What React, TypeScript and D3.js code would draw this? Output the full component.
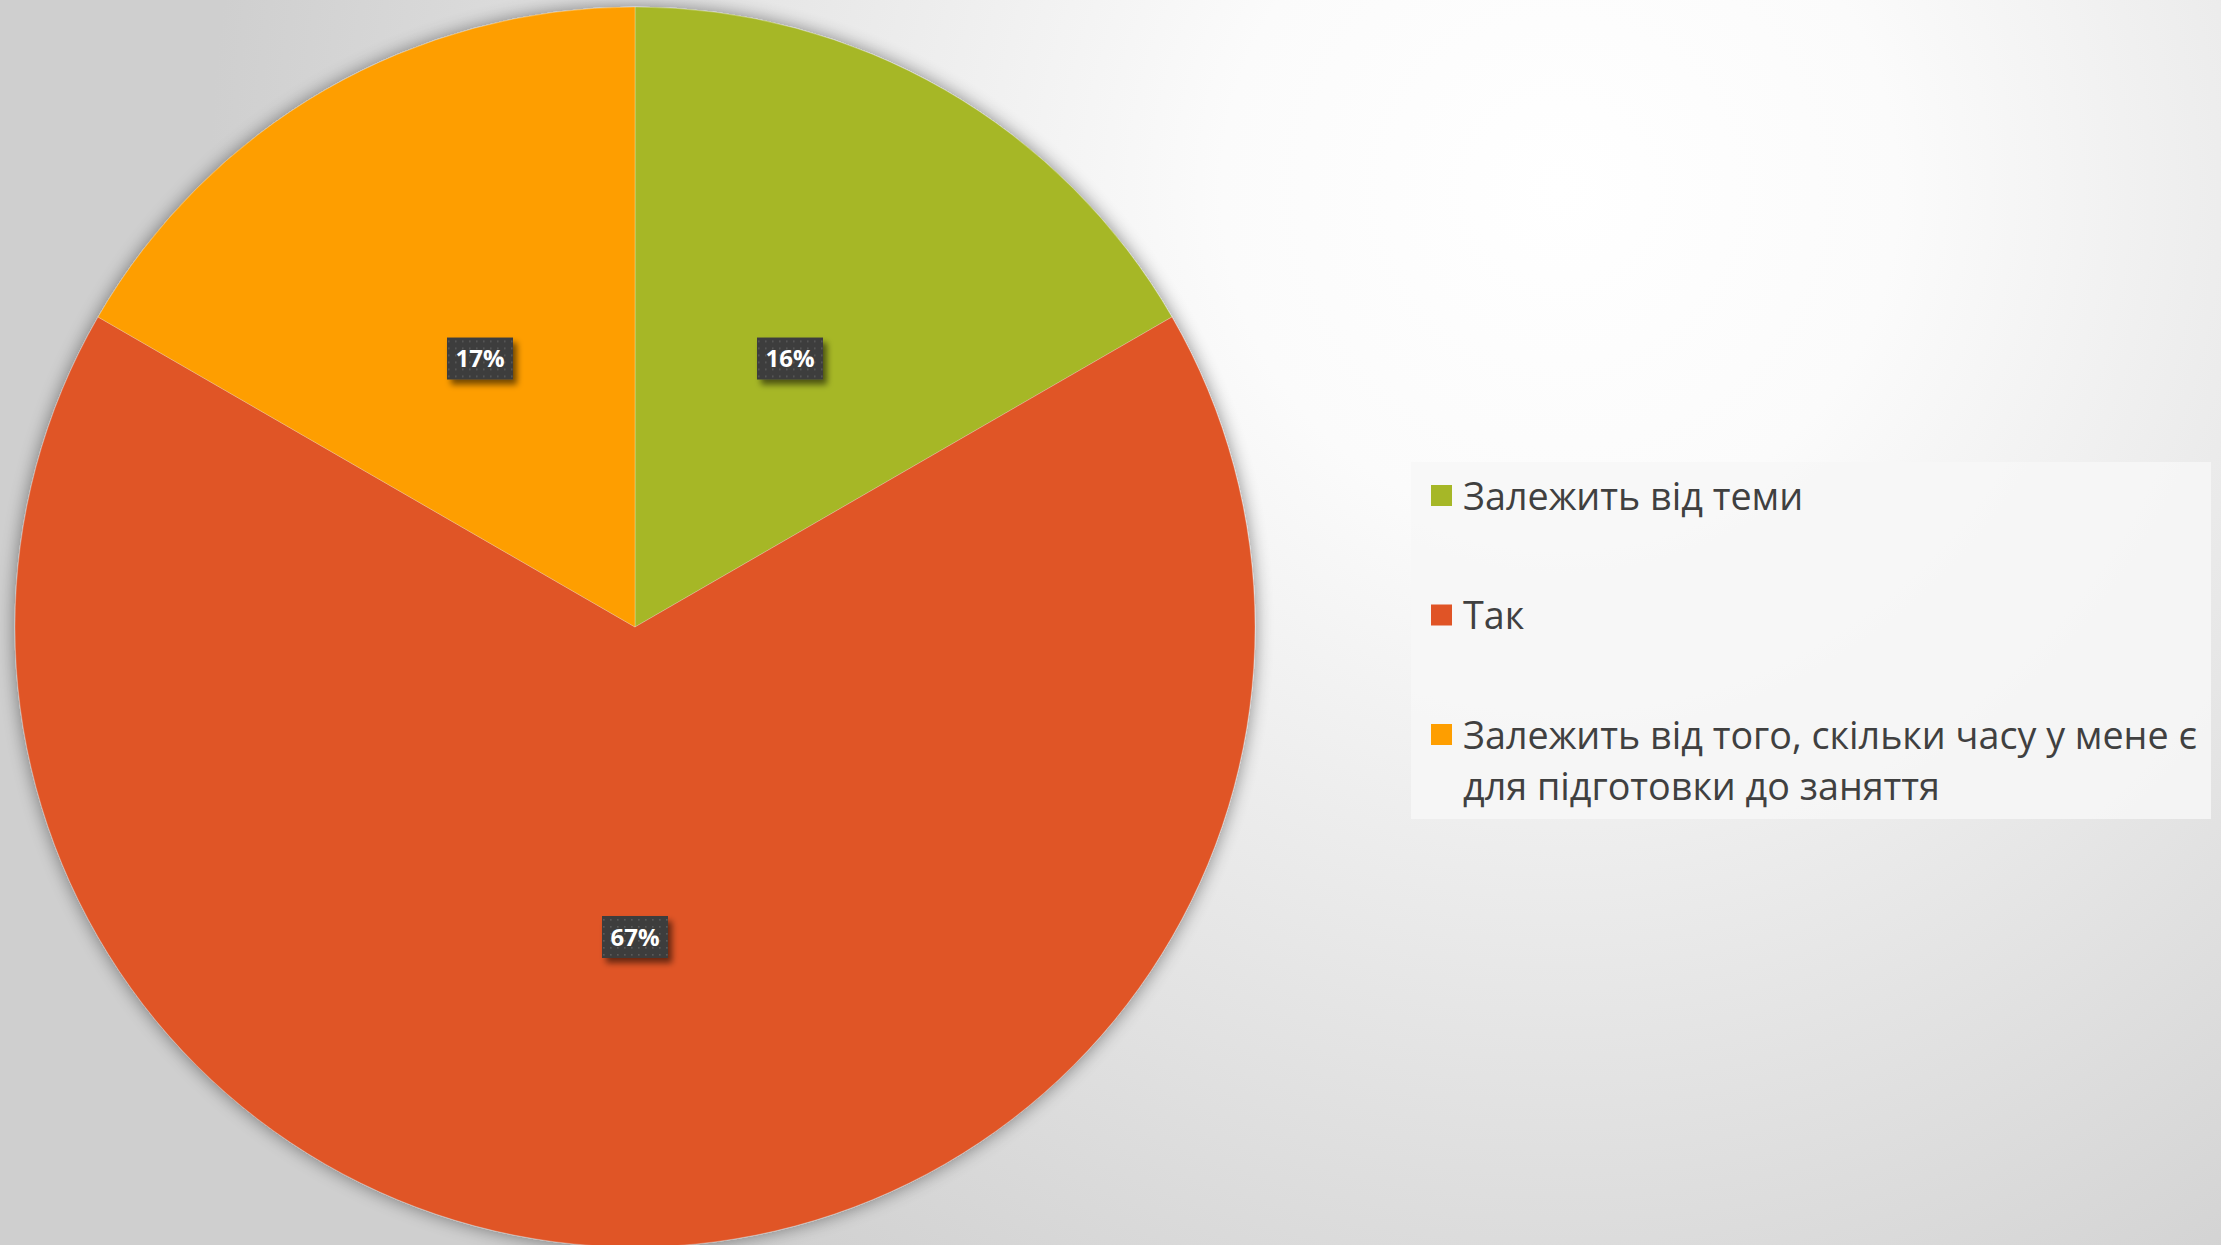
import React, { useEffect, useRef } from "react";
import * as d3 from "d3";

const categories = ["Залежить від теми", "Так", "Залежить від того, скільки часу у мене є для підготовки до заняття"];
const legendLines = [["Залежить від теми"], ["Так"], ["Залежить від того, скільки часу у мене є", "для підготовки до заняття"]];
const values = [1, 4, 1];
const dataLabels = ["16%", "67%", "17%"];
const colors = ["#A6B727", "#E05426", "#FE9E00"];

const W = 2221;
const H = 1245;

export default function App() {
  const ref = useRef<SVGSVGElement | null>(null);

  useEffect(() => {
    document.body.style.margin = "0";
    const svg = d3.select(ref.current);
    svg.selectAll("*").remove();

    const defs = svg.append("defs");
    const bg = defs.append("radialGradient").attr("id", "bg")
      .attr("gradientUnits", "userSpaceOnUse")
      .attr("cx", 1560).attr("cy", 190).attr("r", 1350);
    bg.append("stop").attr("offset", "0").attr("stop-color", "#ffffff");
    bg.append("stop").attr("offset", "0.25").attr("stop-color", "#fbfbfb");
    bg.append("stop").attr("offset", "1").attr("stop-color", "#cfcfcf");

    const sh = defs.append("filter").attr("id", "pieShadow")
      .attr("x", "-10%").attr("y", "-10%").attr("width", "120%").attr("height", "120%");
    sh.append("feGaussianBlur").attr("in", "SourceAlpha").attr("stdDeviation", 9).attr("result", "b");
    sh.append("feComponentTransfer").attr("in", "b").attr("result", "b2")
      .append("feFuncA").attr("type", "linear").attr("slope", 0.45);
    const m = sh.append("feMerge");
    m.append("feMergeNode").attr("in", "b2");
    m.append("feMergeNode").attr("in", "SourceGraphic");

    const ls = defs.append("filter").attr("id", "lblShadow")
      .attr("x", "-30%").attr("y", "-30%").attr("width", "170%").attr("height", "170%");
    ls.append("feGaussianBlur").attr("in", "SourceAlpha").attr("stdDeviation", 3).attr("result", "b");
    ls.append("feOffset").attr("in", "b").attr("dx", 4).attr("dy", 5).attr("result", "o");
    ls.append("feComponentTransfer").attr("in", "o").attr("result", "o2")
      .append("feFuncA").attr("type", "linear").attr("slope", 0.55);
    const m2 = ls.append("feMerge");
    m2.append("feMergeNode").attr("in", "o2");
    m2.append("feMergeNode").attr("in", "SourceGraphic");

    const pat = defs.append("pattern").attr("id", "dots")
      .attr("patternUnits", "userSpaceOnUse").attr("width", 7).attr("height", 7);
    pat.append("rect").attr("width", 7).attr("height", 7).attr("fill", "#3d3d3d");
    pat.append("rect").attr("x", 3).attr("y", 3).attr("width", 1.6).attr("height", 1.6).attr("fill", "#5a5a5a");

    svg.append("rect").attr("width", W).attr("height", H).attr("fill", "url(#bg)");

    const cx = 635, cy = 627, r = 620;
    const pie = d3.pie<number>().sort(null).value((d) => d);
    const arcs = pie(values);
    const arc = d3.arc<d3.PieArcDatum<number>>().innerRadius(0).outerRadius(r);

    const g = svg.append("g").attr("transform", `translate(${cx},${cy})`);
    g.append("g").attr("filter", "url(#pieShadow)")
      .selectAll("path").data(arcs).join("path")
      .attr("d", arc as any)
      .attr("fill", (_d, i) => colors[i])
      .attr("stroke", "rgba(255,255,255,0.25)")
      .attr("stroke-width", 1);

    const lbl = g.selectAll("g.lbl").data(arcs).join("g").attr("class", "lbl")
      .attr("transform", (d) => {
        const [x, y] = arc.centroid(d);
        return `translate(${x},${y})`;
      });
    lbl.append("rect")
      .attr("x", -33).attr("y", -21).attr("width", 66).attr("height", 42)
      .attr("fill", "url(#dots)").attr("filter", "url(#lblShadow)");
    lbl.append("text")
      .attr("text-anchor", "middle").attr("dy", "0.36em")
      .attr("font-family", "'Open Sans', sans-serif").attr("font-weight", 700)
      .attr("font-size", 24).attr("fill", "#ffffff")
      .text((_d, i) => dataLabels[i]);

    // legend
    const lx = 1411, ly = 462, lw = 800, lh = 357;
    const leg = svg.append("g");
    leg.append("rect").attr("x", lx).attr("y", ly).attr("width", lw).attr("height", lh)
      .attr("fill", "#f7f7f7").attr("fill-opacity", 0.85);
    const rowY = d3.scalePoint<number>().domain(categories.map((_c, i) => i)).range([496, 735]);
    const lineH = 51;
    const items = leg.selectAll("g.item").data(categories).join("g").attr("class", "item")
      .attr("transform", (_d, i) => `translate(0,${rowY(i)})`);
    items.append("rect").attr("x", 1431).attr("y", -11).attr("width", 21).attr("height", 21)
      .attr("fill", (_d, i) => colors[i]);
    items.each(function (_d, i) {
      const t = d3.select(this).append("text")
        .attr("font-family", "'Open Sans', sans-serif").attr("font-size", 37.7)
        .attr("fill", "#404040");
      legendLines[i].forEach((ln, j) => {
        t.append("tspan").attr("x", 1463).attr("y", j * lineH).attr("dy", "0.36em").text(ln);
      });
    });
  }, []);

  return (
    <svg ref={ref} width={W} height={H} style={{ position: "absolute", left: 0, top: 0, display: "block" }} />
  );
}
